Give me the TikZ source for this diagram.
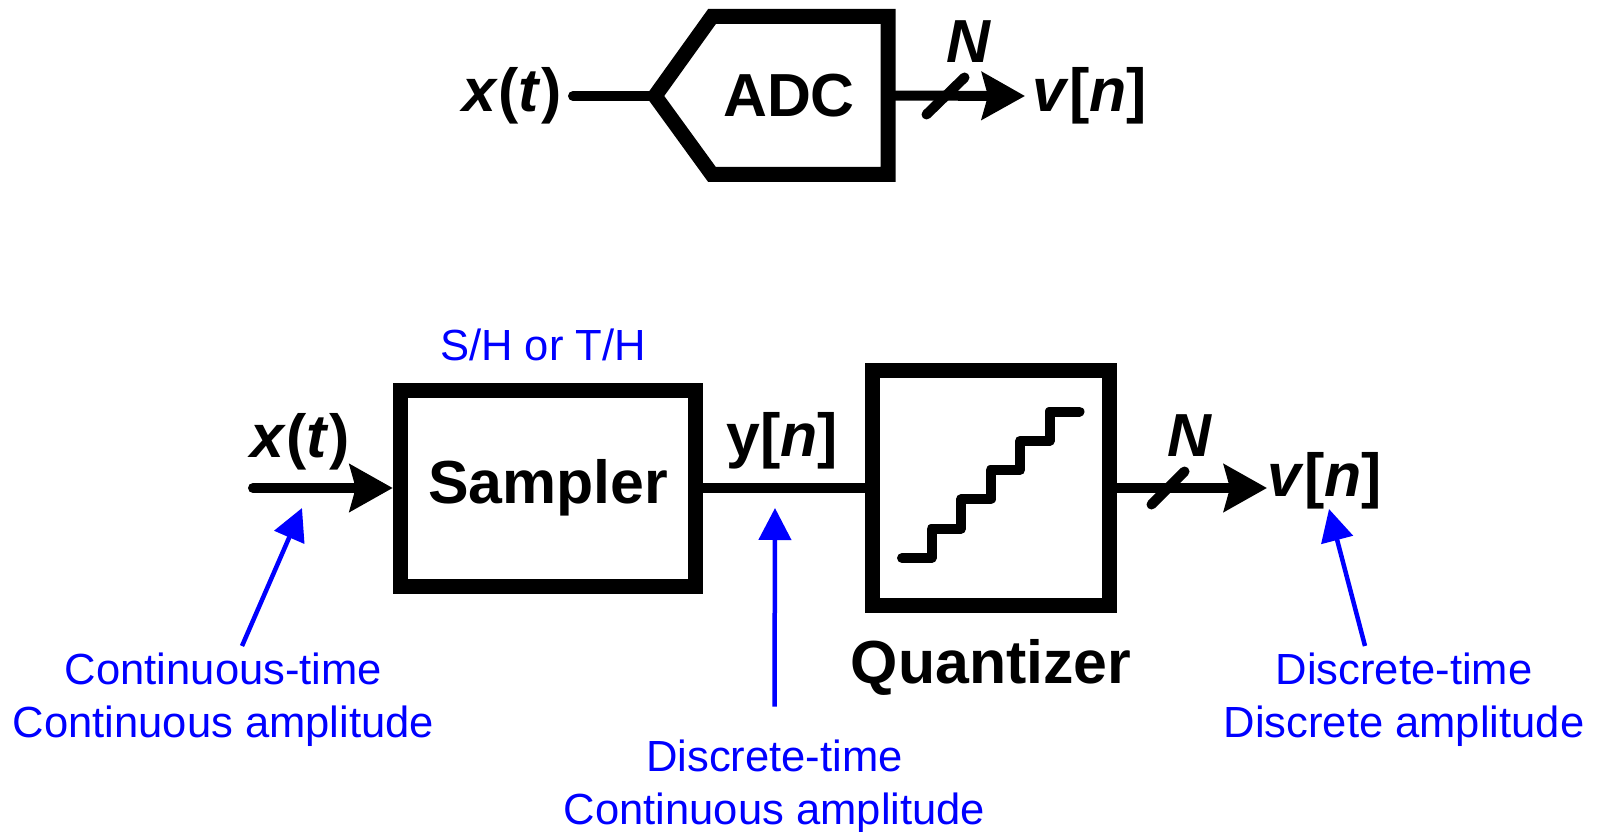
\documentclass[tikz,border=0pt]{standalone}
\usepackage{fontspec}
\setmainfont{Liberation Sans}
\usetikzlibrary{arrows.meta,calc}
\newcommand{\xoft}{\textit{x}(\textit{t})}
\newcommand{\vofn}{\textit{v}[\textit{n}]}
\newcommand{\yofn}{y[\textit{n}]}

\begin{document}
\begin{tikzpicture}[every node/.style={font=\fontsize{17.3}{20}\selectfont\bfseries, inner sep=0pt},
  wire/.style={line width=1mm, line cap=round},
  sigarrow/.style={wire, -{Stealth[length=4.3mm, width=4.7mm, inset=0.6mm]}},
  block/.style={draw, line width=1.5mm},
  busmark/.style={line width=1mm, line cap=round},
  stair/.style={line width=1mm, line cap=round, line join=round},
  note/.style={text=blue, font=\fontsize{12.4}{15.1}\selectfont, align=center},
  pointer/.style={blue, line width=0.45mm, -{Triangle[length=3.2mm, width=3.2mm]}}]
\useasboundingbox (0,0) rectangle (15.97,8.31);
% --- ADC symbol ---
\coordinate (adctip) at (6.55,7.35);
\coordinate (adctl)  at (7.12,8.145);
\coordinate (adctr)  at (8.88,8.145);
\coordinate (adcbr)  at (8.88,6.565);
\coordinate (adcbl)  at (7.12,6.565);
\draw[line width=1.5mm] (adctip) -- (adctl) -- (adctr) -- (adcbr) -- (adcbl) -- cycle;
\node (adc) at (7.89,7.35) {ADC};
\node (xt1) at (5.12,7.35) {\xoft};
\coordinate (in1) at (5.73,7.35);
\draw[wire] (in1) -- (adctip);
\coordinate (adcout) at ($(adctr)!0.5!(adcbr)$);
\coordinate (out1) at (10.25,7.35);
\draw[sigarrow] (adcout) -- (out1);
\draw[busmark] (9.265,7.165) -- ++(0.38,0.37);
\node (n1) at (9.69,7.89) {\textit{N}};
\node (v1) at (10.9,7.35) {\vofn};
% --- sampler + quantizer ---
\node[block, minimum width=2.955cm, minimum height=1.96cm] (samp) at (5.48,3.43) {Sampler};
\node[note] (sh) at (5.43,4.86) {S/H or T/H};
\node (xt2) at (3.00,3.89) {\xoft};
\coordinate (in2) at (2.53,3.43);
\draw[sigarrow] (in2) -- (samp.west);
\node (yn) at (7.82,3.90) {\yofn};
\node[block, minimum width=2.365cm, minimum height=2.35cm] (quant) at (9.91,3.43) {};
\draw[wire] (samp.east) -- (quant.west);
\draw[stair] ($(quant.center)+(-0.89,-0.70)$)
  \foreach \k in {1,...,5} { -- ++(0.295,0) -- ++(0,0.293) } -- ++(0.30,0);
\node (qlabel) at (9.91,1.64) {Quantizer};
\coordinate (out2) at (12.67,3.43);
\draw[sigarrow] (quant.east) -- (out2);
\draw[busmark] (11.515,3.265) -- ++(0.33,0.33);
\node (n2) at (11.90,3.95) {\textit{N}};
\node (v2) at (13.25,3.50) {\vofn};
% --- signal kinds ---
\node[note, anchor=north] (ctca) at (2.235,1.79) {Continuous-time\\Continuous amplitude};
\node[note, anchor=north] (dtca) at (7.745,0.914) {Discrete-time\\Continuous amplitude};
\node[note, anchor=north] (dtda) at (14.04,1.79) {Discrete-time\\Discrete amplitude};
\coordinate (p1) at (3.02,3.23);
\coordinate (p2) at (7.75,3.23);
\coordinate (p3) at (13.29,3.22);
\draw[pointer] ([xshift=1.85mm,yshift=0.6mm]ctca.north) -- (p1);
\draw[pointer] ([yshift=3.3mm]dtca.north) -- (p2);
\draw[pointer] ([xshift=-3.9mm,yshift=0.6mm]dtda.north) -- (p3);
\end{tikzpicture}
\end{document}
